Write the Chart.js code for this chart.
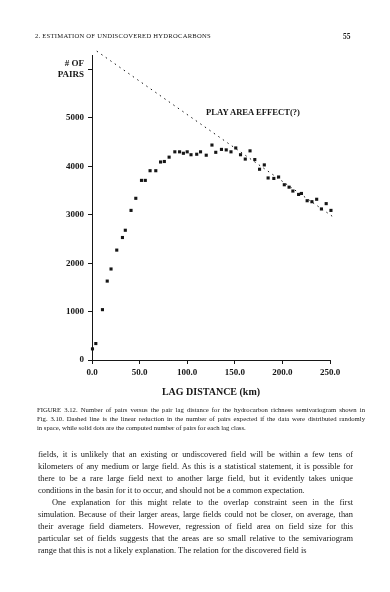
<!DOCTYPE html>
<html>
<head>
<meta charset="utf-8">
<script src="https://cdn.jsdelivr.net/npm/chart.js@4"></script>
<style>
  body { margin:0; width:390px; height:592px; background:#fff; position:relative; overflow:hidden;
         font-family:'Liberation Serif', serif; color:#161616; }
  .abs { position:absolute; will-change:transform; }
  .head { top:32px; left:35px; font-size:6.6px; letter-spacing:0.25px; }
  .pageno { top:32px; left:343px; font-size:7.5px; font-weight:bold; }
  .note { left:206px; top:107px; font-size:8.6px; font-weight:bold; }
  .line { left:38px; width:315px; text-align:justify; text-align-last:justify; white-space:normal; }
  .cap { font-size:6.7px; width:328px; left:37px; }
  .body { font-size:8.4px; }
  .last { text-align-last:left; }
</style>
</head>
<body>

<div class="abs head">2. ESTIMATION OF UNDISCOVERED HYDROCARBONS</div>
<div class="abs pageno">55</div>

<div class="abs" style="left:40px;top:40px;width:320px;height:360px">
  <canvas id="pairs-chart"></canvas>
</div>
<div class="abs note">PLAY AREA EFFECT(?)</div>

<!-- caption -->
<div class="abs line cap" style="top:406px">FIGURE 3.12. Number of pairs versus the pair lag distance for the hydrocarbon richness semivariogram shown in</div>
<div class="abs line cap" style="top:415px">Fig. 3.10. Dashed line is the linear reduction in the number of pairs expected if the data were distributed randomly</div>
<div class="abs line cap last" style="top:424px">in space, while solid dots are the computed number of pairs for each lag class.</div>

<!-- body text -->
<div class="abs line body" style="top:450px">fields, it is unlikely that an existing or undiscovered field will be within a few tens of</div>
<div class="abs line body" style="top:462px">kilometers of any medium or large field. As this is a statistical statement, it is possible for</div>
<div class="abs line body" style="top:474px">there to be a rare large field next to another large field, but it evidently takes unique</div>
<div class="abs line body last" style="top:486px">conditions in the basin for it to occur, and should not be a common expectation.</div>
<div class="abs line body" style="top:498px;left:52px;width:301px">One explanation for this might relate to the overlap constraint seen in the first</div>
<div class="abs line body" style="top:510px">simulation. Because of their larger areas, large fields could not be closer, on average, than</div>
<div class="abs line body" style="top:522px">their average field diameters. However, regression of field area on field size for this</div>
<div class="abs line body" style="top:534px">particular set of fields suggests that the areas are so small relative to the semivariogram</div>
<div class="abs line body last" style="top:546px">range that this is not a likely explanation. The relation for the discovered field is</div>

<script>
// lag classes (km) and number of pairs
const lagKm = [0.5, 4, 11, 16, 20, 26, 32, 35, 41, 46, 52, 56, 61, 67, 72, 76, 81, 87, 92, 96,
  100, 104, 110, 114, 120, 126, 130, 136, 141, 146, 151, 156, 161, 166, 171, 176, 181, 185, 191, 196,
  202, 207, 211, 217, 220, 226, 231, 236, 241, 246, 251];
const pairCount = [230, 340, 1040, 1630, 1880, 2270, 2530, 2680, 3090, 3340, 3710, 3710, 3910, 3910, 4090, 4100, 4190, 4300, 4300, 4270,
  4300, 4240, 4250, 4300, 4230, 4440, 4290, 4350, 4340, 4300, 4380, 4240, 4150, 4320, 4140, 3940, 4030, 3760, 3750, 3780,
  3620, 3570, 3490, 3420, 3440, 3290, 3270, 3320, 3120, 3230, 3090];

// dashed "random" reduction line, end points
const randomLagKm = [5, 253];
const randomPairs = [6380, 2960];

const xTicks = [0, 50, 100, 150, 200, 250];
const yTicks = [0, 1000, 2000, 3000, 4000, 5000, 6000];
const yTickLabels = ['0', '1000', '2000', '3000', '4000', '5000', ['# OF', 'PAIRS']];

const ink = '#161616';
const tickFont = { family: "'Liberation Serif', serif", size: 9, weight: 'bold' };

new Chart(document.getElementById('pairs-chart'), {
  type: 'scatter',
  data: {
    datasets: [
      {
        data: lagKm.map((x, i) => ({ x, y: pairCount[i] })),
        pointStyle: 'rect',
        pointRadius: 2.2,
        backgroundColor: ink,
        borderWidth: 0,
        clip: false
      },
      {
        data: randomLagKm.map((x, i) => ({ x, y: randomPairs[i] })),
        showLine: true,
        borderColor: ink,
        borderWidth: 1,
        borderDash: [1.5, 4],
        pointRadius: 0,
        clip: false
      }
    ]
  },
  options: {
    responsive: true,
    maintainAspectRatio: false,
    animation: false,
    layout: { padding: { top: 15, right: 30, bottom: 0, left: 0 } },
    plugins: { legend: { display: false }, tooltip: { enabled: false } },
    scales: {
      x: {
        type: 'linear', min: 0, max: 250,
        afterBuildTicks: s => { s.ticks = xTicks.map(v => ({ value: v })); },
        afterFit: s => { s.height = 40; },
        ticks: { callback: v => v.toFixed(1), font: tickFont, color: ink, padding: 3, maxRotation: 0 },
        grid: { drawOnChartArea: false, drawTicks: true, tickLength: 4, color: ink },
        border: { color: ink, width: 1 },
        title: {
          display: true, text: 'LAG DISTANCE (km)', color: ink,
          font: { family: "'Liberation Serif', serif", size: 10, weight: 'bold' },
          padding: { top: 0, bottom: 2 }
        }
      },
      y: {
        type: 'linear', min: 0, max: 6300,
        afterBuildTicks: s => { s.ticks = yTicks.map(v => ({ value: v })); },
        afterFit: s => { s.width = 52; },
        ticks: { callback: v => yTickLabels[yTicks.indexOf(v)], font: tickFont, color: ink, padding: 4 },
        grid: { drawOnChartArea: false, drawTicks: true, tickLength: 4, color: ink },
        border: { color: ink, width: 1 }
      }
    }
  }
});
</script>
</body>
</html>
